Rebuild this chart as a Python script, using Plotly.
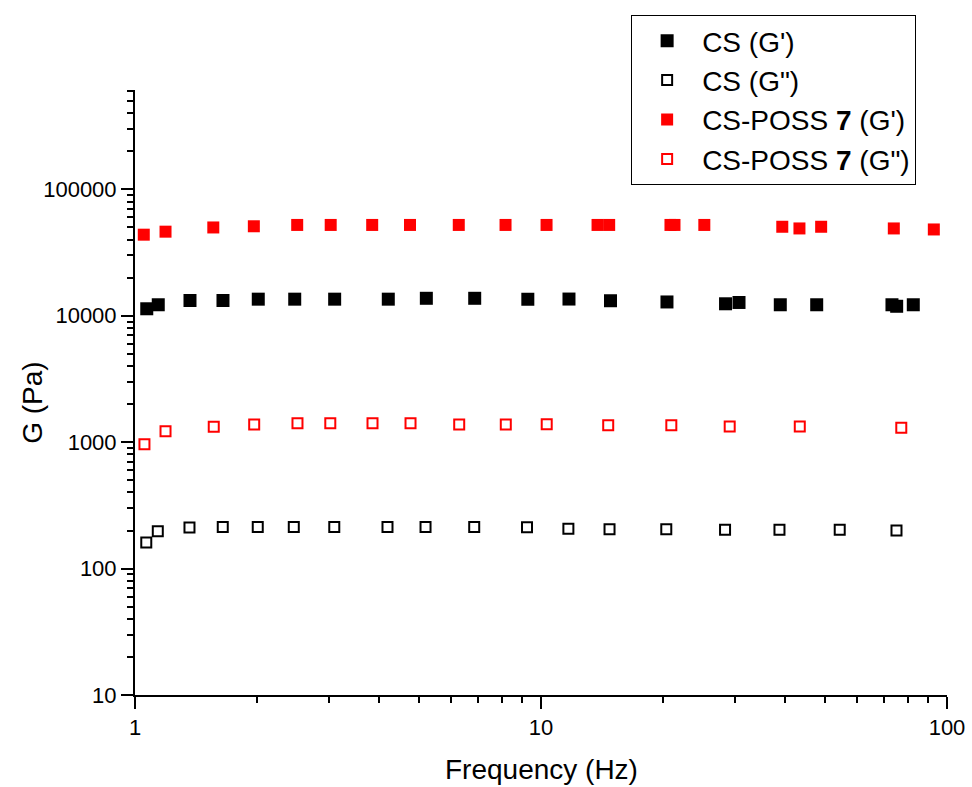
import plotly.graph_objects as go

# ---- data ----
cs_g1_freq = [1.069, 1.141, 1.366, 1.647, 2.012, 2.474, 3.103, 4.206, 5.219, 6.866, 9.28,
              11.72, 14.83, 20.43, 28.48, 30.74, 38.85, 47.76, 73.19, 75.17, 82.6]
cs_g1 = [11360, 12220, 13210, 13210, 13530, 13530, 13530, 13530, 13750, 13750, 13510,
         13560, 13150, 12860, 12440, 12740, 12220, 12220, 12220, 11890, 12220]

cs_g2_freq = [1.066, 1.138, 1.362, 1.645, 2.006, 2.461, 3.096, 4.187, 5.195, 6.847, 9.237,
              11.68, 14.75, 20.35, 28.4, 38.67, 54.42, 75.09]
cs_g2 = [161, 197, 211, 213, 213, 213, 213, 213, 213, 213, 212,
         207, 205, 205, 203, 203, 203, 200]

poss_g1_freq = [1.051, 1.189, 1.559, 1.962, 2.509, 3.034, 3.839, 4.757, 6.273, 8.178, 10.32,
                13.78, 14.72, 20.84, 21.32, 25.25, 39.29, 43.31, 48.98, 73.96, 92.8]
poss_g1 = [43800, 46270, 49960, 51050, 52300, 52300, 52300, 52300, 52300, 52300, 52300,
           52300, 52300, 52300, 52300, 52300, 50600, 49070, 50600, 49070, 48170]

poss_g2_freq = [1.055, 1.189, 1.563, 1.966, 2.513, 3.027, 3.846, 4.771, 6.288, 8.19, 10.33,
                14.64, 20.94, 29.16, 43.39, 77.16]
poss_g2 = [964, 1222, 1327, 1380, 1413, 1413, 1413, 1413, 1380, 1380, 1388,
           1363, 1363, 1331, 1331, 1302]

names = ["CS (G')", 'CS (G")', "CS-POSS <b>7</b> (G')", 'CS-POSS <b>7</b> (G")']

y_tickvals = [10, 100, 1000, 10000, 100000]
y_ticktext = ["10", "100", "1000", "10000", "100000"]
x_tickvals = [1, 10, 100]
x_ticktext = ["1", "10", "100"]

FONT = "Liberation Sans, Arial, sans-serif"

minor_y = [k * 10 ** d for d in range(1, 6) for k in range(2, 10)]
minor_x = [k * 10 ** d for d in range(0, 2) for k in range(2, 10)]

fig = go.Figure()
fig.add_trace(go.Scatter(x=cs_g1_freq, y=cs_g1, mode="markers", name=names[0],
                         marker=dict(symbol="square", size=13, color="black", line=dict(width=0))))
fig.add_trace(go.Scatter(x=cs_g2_freq, y=cs_g2, mode="markers", name=names[1],
                         marker=dict(symbol="square-open", size=10, color="black", line=dict(width=2))))
fig.add_trace(go.Scatter(x=poss_g1_freq, y=poss_g1, mode="markers", name=names[2],
                         marker=dict(symbol="square", size=12, color="#ff0000", line=dict(width=0))))
fig.add_trace(go.Scatter(x=poss_g2_freq, y=poss_g2, mode="markers", name=names[3],
                         marker=dict(symbol="square-open", size=10, color="#ff0000", line=dict(width=2))))

fig.update_layout(
    width=972, height=787,
    margin=dict(l=135, r=25, t=90, b=92),
    paper_bgcolor="white", plot_bgcolor="white",
    font=dict(family=FONT, color="black"),
    showlegend=True,
    legend=dict(x=0.611, y=1.124, xanchor="left", yanchor="top",
                bordercolor="black", borderwidth=1, bgcolor="white",
                font=dict(size=28, family=FONT, color="black"),
                itemwidth=60, tracegroupgap=0),
    xaxis=dict(type="log", range=[0, 2], showgrid=False, zeroline=False, automargin=False,
               showline=True, linecolor="black", linewidth=2, mirror=False,
               ticks="outside", ticklen=12, tickwidth=2, tickcolor="black",
               tickmode="array", tickvals=x_tickvals, ticktext=x_ticktext,
               tickfont=dict(size=22, family=FONT, color="black"),
               minor=dict(ticks="outside", ticklen=6, tickwidth=2, tickcolor="black",
                          tickmode="array", tickvals=minor_x, showgrid=False)),
    yaxis=dict(type="log", range=[1, 5.786], showgrid=False, zeroline=False, automargin=False,
               showline=True, linecolor="black", linewidth=2, mirror=False,
               ticks="outside", ticklen=12, tickwidth=2, tickcolor="black",
               tickmode="array", tickvals=y_tickvals, ticktext=y_ticktext,
               tickfont=dict(size=22, family=FONT, color="black"),
               minor=dict(ticks="outside", ticklen=6, tickwidth=2, tickcolor="black",
                          tickmode="array", tickvals=minor_y, showgrid=False)),
    annotations=[
        dict(text="Frequency (Hz)", xref="paper", yref="paper", x=0.5, y=-0.094,
             xanchor="center", yanchor="top", showarrow=False,
             font=dict(size=28, family=FONT, color="black")),
        dict(text="G (Pa)", xref="paper", yref="paper", x=-0.1256, y=0.483,
             xanchor="center", yanchor="middle", textangle=-90, showarrow=False,
             font=dict(size=28, family=FONT, color="black")),
    ],
)

fig.write_html("out.html")
